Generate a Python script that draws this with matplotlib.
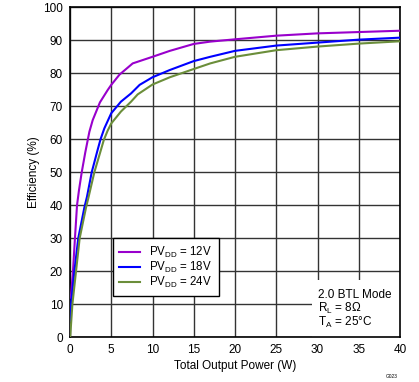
import matplotlib
matplotlib.use("Agg")
import matplotlib.pyplot as plt

plt.rcParams['font.family'] = ['Liberation Sans', 'DejaVu Sans']
plt.rcParams['mathtext.fontset'] = 'custom'
plt.rcParams['mathtext.rm'] = 'Liberation Sans'
plt.rcParams['mathtext.it'] = 'Liberation Sans'
plt.rcParams['mathtext.bf'] = 'Liberation Sans:bold'

labels = ["PV$_{\\mathrm{DD}}$ = 12V", "PV$_{\\mathrm{DD}}$ = 18V", "PV$_{\\mathrm{DD}}$ = 24V"]
colors = ["#9900CC", "#0000FF", "#6B8E3A"]

x12 = [0.1, 0.36, 0.6, 0.85, 1.09, 1.42, 1.85, 2.35, 2.75, 3.63, 4.56, 5, 6.0, 7.6, 10, 12.1, 15, 17, 20, 25, 30, 35, 40]
y12 = [12, 20, 30, 40, 44.6, 50, 56.0, 62.3, 65.8, 71.2, 74.9, 76.5, 79.6, 83.0, 85.0, 86.8, 88.9, 89.6, 90.3, 91.4, 92.1, 92.5, 92.9]

x18 = [0.05, 0.12, 0.53, 1.0, 1.74, 2.06, 2.63, 3.35, 3.7, 4.16, 5, 6.17, 7.4, 8.44, 10, 12.1, 15, 17, 20, 25, 30, 35, 40]
y18 = [5, 10, 20, 30, 39.3, 42.6, 50, 56.8, 60, 63.3, 67.9, 71.4, 73.9, 76.5, 78.8, 81.0, 83.7, 85.0, 86.8, 88.4, 89.3, 90.2, 90.8]

x24 = [0.02, 0.29, 0.73, 1.17, 1.94, 2.26, 2.95, 3.75, 4.1, 4.56, 5, 6.17, 7.4, 8.2, 10, 12.1, 15, 17, 20, 25, 30, 35, 40]
y24 = [0, 10, 20, 30, 39.3, 42.6, 50, 56.8, 59.8, 62.6, 64.8, 68.4, 71.4, 73.6, 76.6, 78.8, 81.3, 83.0, 85.0, 87.0, 88.1, 89.0, 89.7]

xticks = [0, 5, 10, 15, 20, 25, 30, 35, 40]
yticks = [0, 10, 20, 30, 40, 50, 60, 70, 80, 90, 100]

fig = plt.figure(figsize=(4.19, 3.82), dpi=100)
ax = fig.add_axes([70/419, 1-337.3/382, 330/419, 330/382])

for xs, ys, c, lab in zip([x12, x18, x24], [y12, y18, y24], colors, labels):
    ax.plot(xs, ys, color=c, lw=1.5, label=lab, zorder=3)

ax.set_xlim(0, 40)
ax.set_ylim(0, 100)
ax.set_xticks(xticks)
ax.set_yticks(yticks)
ax.grid(True, color="#333333", lw=1.0, zorder=0)
ax.set_axisbelow(True)
ax.tick_params(length=0, labelsize=8.5, pad=5, colors='black')
for s in ax.spines.values():
    s.set_color('black')
    s.set_linewidth(1.2)

ax.set_xlabel("Total Output Power (W)", fontsize=8.5, labelpad=3)
ax.set_ylabel("Efficiency (%)", fontsize=8.5, labelpad=2)

leg = ax.legend(loc='upper left', bbox_to_anchor=(42.6/330, (337.3-238.3)/330),
                fontsize=8.3, frameon=True, fancybox=False, edgecolor='black',
                framealpha=1, handlelength=1.8, handletextpad=0.85,
                labelspacing=0.0, borderpad=0.55, borderaxespad=0)
leg.get_frame().set_linewidth(1.0)
leg.set_zorder(5)

# white patch behind annotation
ax.add_patch(plt.Rectangle((29.3, 0), 10.7, 17.3, facecolor='white', edgecolor='none', zorder=1.5))
ax.text(30.1, 8.4, "2.0 BTL Mode\nR$_{\\mathrm{L}}$ = 8\u03a9\nT$_{\\mathrm{A}}$ = 25\u00b0C",
        fontsize=8.5, va='center', ha='left', linespacing=0.95, zorder=6)

fig.text(398/419, 1-376/382, "G023", fontsize=3.5, ha='right', va='center')

fig.savefig("out.png", dpi=100)
